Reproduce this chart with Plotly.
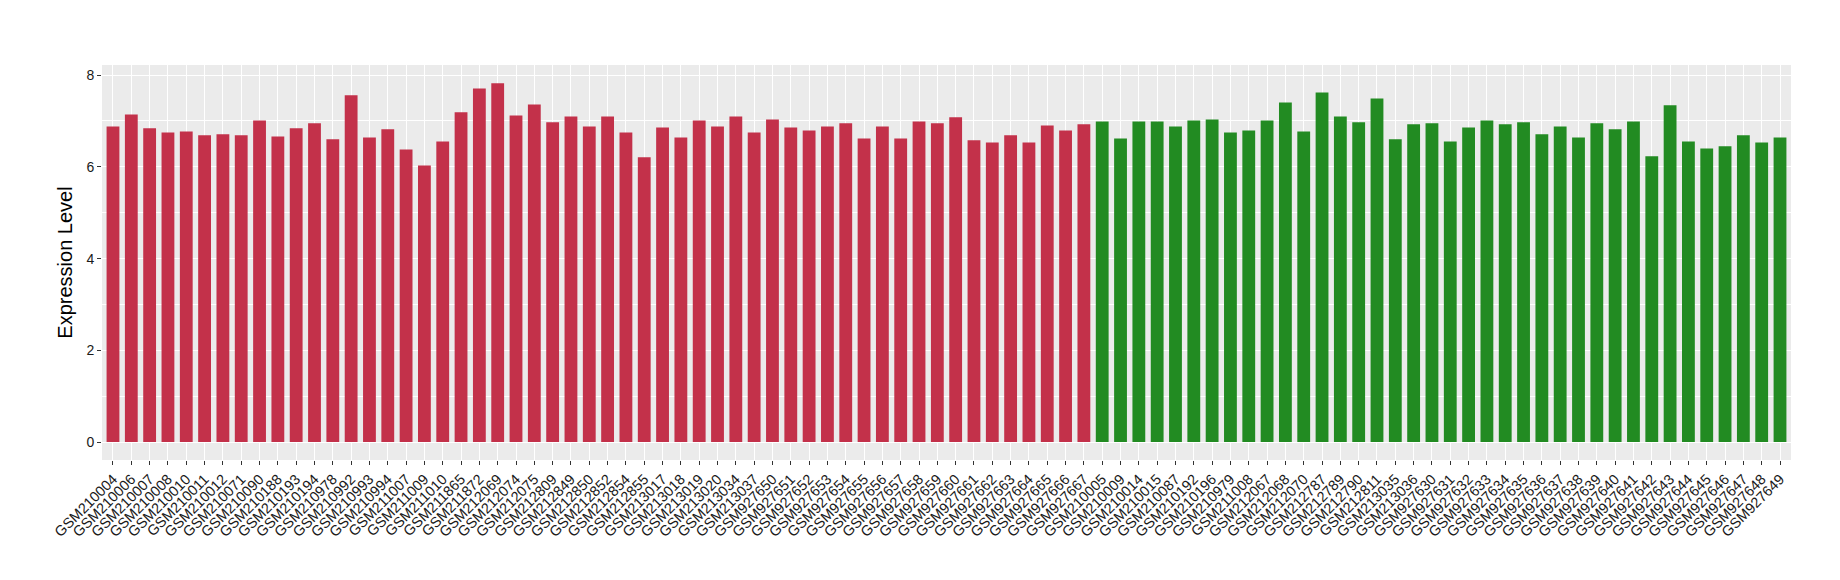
import plotly.graph_objects as go

red_samples = [
    "GSM210004", "GSM210006", "GSM210007", "GSM210008", "GSM210010", "GSM210011",
    "GSM210012", "GSM210071", "GSM210090", "GSM210188", "GSM210193", "GSM210194",
    "GSM210978", "GSM210992", "GSM210993", "GSM210994", "GSM211007", "GSM211009",
    "GSM211010", "GSM211865", "GSM211872", "GSM212069", "GSM212074", "GSM212075",
    "GSM212809", "GSM212849", "GSM212850", "GSM212852", "GSM212854", "GSM212855",
    "GSM213017", "GSM213018", "GSM213019", "GSM213020", "GSM213034", "GSM213037",
    "GSM927650", "GSM927651", "GSM927652", "GSM927653", "GSM927654", "GSM927655",
    "GSM927656", "GSM927657", "GSM927658", "GSM927659", "GSM927660", "GSM927661",
    "GSM927662", "GSM927663", "GSM927664", "GSM927665", "GSM927666", "GSM927667",
]
red_values = [
    6.88, 7.14, 6.84, 6.75, 6.77, 6.69, 6.71, 6.69, 7.01, 6.66, 6.84, 6.95,
    6.60, 7.56, 6.64, 6.82, 6.38, 6.03, 6.55, 7.19, 7.71, 7.82, 7.12, 7.36,
    6.97, 7.10, 6.88, 7.10, 6.75, 6.21, 6.86, 6.64, 7.01, 6.88, 7.10, 6.75,
    7.03, 6.86, 6.79, 6.88, 6.95, 6.62, 6.88, 6.62, 6.99, 6.95, 7.08, 6.58,
    6.53, 6.69, 6.53, 6.90, 6.79, 6.93,
]

green_samples = [
    "GSM210005", "GSM210009", "GSM210014", "GSM210015", "GSM210087", "GSM210192",
    "GSM210196", "GSM210979", "GSM211008", "GSM212067", "GSM212068", "GSM212070",
    "GSM212787", "GSM212789", "GSM212790", "GSM212811", "GSM213035", "GSM213036",
    "GSM927630", "GSM927631", "GSM927632", "GSM927633", "GSM927634", "GSM927635",
    "GSM927636", "GSM927637", "GSM927638", "GSM927639", "GSM927640", "GSM927641",
    "GSM927642", "GSM927643", "GSM927644", "GSM927645", "GSM927646", "GSM927647",
    "GSM927648", "GSM927649",
]
green_values = [
    6.99, 6.62, 6.99, 6.99, 6.88, 7.01, 7.03, 6.75, 6.79, 7.01, 7.40, 6.77,
    7.62, 7.10, 6.97, 7.49, 6.60, 6.93, 6.95, 6.55, 6.86, 7.01, 6.93, 6.97,
    6.71, 6.88, 6.64, 6.95, 6.82, 6.99, 6.23, 7.34, 6.55, 6.40, 6.45, 6.69,
    6.53, 6.64,
]

y_tick_values = [0, 2, 4, 6, 8]
y_title = "Expression Level"

RED = "#C3314A"
GREEN = "#228B22"
FONT = "Liberation Sans, Arial, sans-serif"

all_samples = red_samples + green_samples

fig = go.Figure()
fig.add_trace(go.Bar(x=red_samples, y=red_values, marker=dict(color=RED, line=dict(width=0)),
                     width=0.7, showlegend=False, hoverinfo="x+y"))
fig.add_trace(go.Bar(x=green_samples, y=green_values, marker=dict(color=GREEN, line=dict(width=0)),
                     width=0.7, showlegend=False, hoverinfo="x+y"))

fig.update_layout(
    width=1840, height=580,
    barmode="overlay",
    paper_bgcolor="white",
    plot_bgcolor="#EBEBEB",
    margin=dict(l=94, r=57, t=57, b=128, autoexpand=False),
    font=dict(family=FONT, color="#1a1a1a"),
    xaxis=dict(
        type="category",
        categoryorder="array",
        categoryarray=all_samples,
        range=[-0.6, len(all_samples) - 0.4],
        tickangle=-45,
        tickfont=dict(size=14.5, color="#1a1a1a", family=FONT),
        ticks="outside", ticklen=4, tickwidth=1, tickcolor="#333333",
        showgrid=True, gridcolor="white", gridwidth=1.1,
        showline=False, zeroline=False, automargin=False,
    ),
    yaxis=dict(
        range=[-0.39, 8.22],
        tickvals=y_tick_values,
        tickfont=dict(size=14, color="#1a1a1a", family=FONT),
        ticks="outside", ticklen=4, tickwidth=1, tickcolor="#333333",
        showgrid=True, gridcolor="white", gridwidth=1.1,
        minor=dict(dtick=1, tick0=0, showgrid=True, gridcolor="white", gridwidth=0.6, ticks=""),
        zeroline=False, showline=False, automargin=False,
        title=dict(text=y_title, font=dict(size=20, color="black", family=FONT), standoff=8),
    ),
)

fig.write_html("out.html")
